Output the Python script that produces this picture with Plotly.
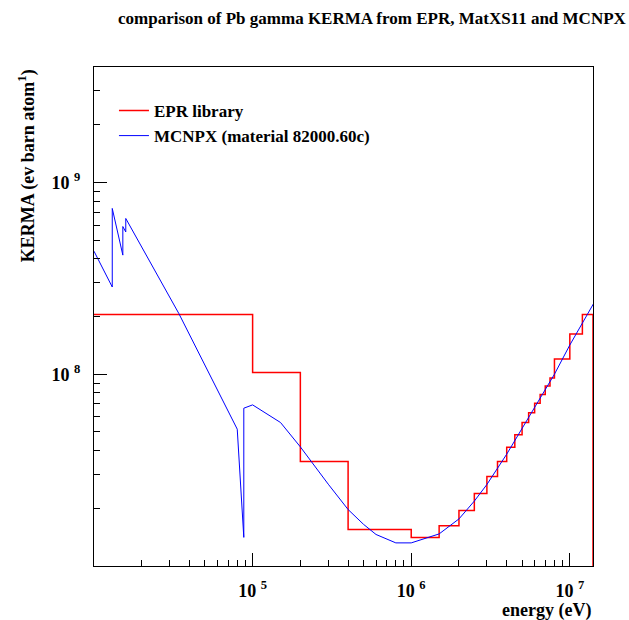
import plotly.graph_objects as go
import math

# ---- data ----
# EPR library histogram: bin edges (eV) and KERMA per bin
epr_edges = [1.0e4, 1.0e5, 2.0e5, 4.0e5, 1.0e6, 1.5e6, 2.0e6, 2.5e6, 3.0e6, 3.5e6,
             4.0e6, 4.5e6, 5.0e6, 5.5e6, 6.0e6, 6.5e6, 7.0e6, 7.5e6, 8.0e6,
             1.0e7, 1.2e7, 1.4e7]
epr_kerma = [2.05e8, 1.02e8, 3.51e7, 1.55e7, 1.41e7, 1.62e7, 1.95e7, 2.39e7, 2.93e7,
             3.51e7, 4.16e7, 4.84e7, 5.60e7, 6.30e7, 7.06e7, 7.84e7, 8.69e7, 9.57e7,
             1.20e8, 1.62e8, 2.05e8]
epr_zero = 1.0  # histogram drops to zero after the last bin (below axis range)

# MCNPX material 82000.60c curve
mcnpx_energy = [1.0e4, 1.3035e4, 1.3035e4, 1.52e4, 1.52e4, 1.586e4, 1.586e4, 3.43e4,
                8.0e4, 8.8e4, 8.8e4, 1.0e5, 1.5e5, 2.0e5, 3.0e5, 4.0e5, 5.0e5,
                6.0e5, 8.0e5, 1.0e6, 1.5e6, 2.0e6, 2.5e6, 3.0e6, 4.0e6, 5.0e6,
                6.0e6, 8.0e6, 1.0e7, 1.5e7]
mcnpx_kerma = [4.38e8, 2.85e8, 7.32e8, 4.18e8, 5.89e8, 5.52e8, 6.49e8, 2.07e8,
               5.17e7, 1.41e7, 6.65e7, 6.92e7, 5.60e7, 4.18e7, 2.67e7, 1.97e7, 1.65e7,
               1.46e7, 1.32e7, 1.32e7, 1.47e7, 1.76e7, 2.18e7, 2.66e7, 3.83e7, 5.21e7,
               6.67e7, 1.00e8, 1.42e8, 2.55e8]

x_major = [1e5, 1e6, 1e7]
x_major_text = ["10 <sup>5</sup>", "10 <sup>6</sup>", "10 <sup>7</sup>"]
y_major = [1e8, 1e9]
y_major_text = ["10 <sup>8</sup>", "10 <sup>9</sup>"]
x_range = [1.0e4, 1.4e7]
y_range = [1.0e7, 4.0e9]

title_text = "comparison of Pb gamma KERMA from EPR, MatXS11 and MCNPX"
x_title = "energy (eV)"
y_title = "KERMA (ev barn atom<sup>1</sup>)"

# ---- build step path for histogram ----
hx, hy = [], []
for i, v in enumerate(epr_kerma):
    hx += [epr_edges[i], epr_edges[i + 1]]
    hy += [v, v]
hx.append(epr_edges[-1])
hy.append(epr_zero)


def minors(lo, hi):
    out = []
    for d in range(int(math.floor(math.log10(lo))), int(math.ceil(math.log10(hi))) + 1):
        for m in range(2, 10):
            v = m * 10 ** d
            if lo < v < hi:
                out.append(v)
    return out


FONT = "Liberation Serif"

fig = go.Figure()
fig.add_trace(go.Scatter(x=hx, y=hy, mode="lines", name="EPR library",
                         line=dict(color="#ff0000", width=1.5),
                         legendgroup="a"))
fig.add_trace(go.Scatter(x=mcnpx_energy, y=mcnpx_kerma, mode="lines",
                         name="MCNPX (material 82000.60c)",
                         line=dict(color="#0000ff", width=1),
                         legendgroup="b"))

axis_common = dict(
    type="log", showgrid=False, zeroline=False,
    showline=True, linecolor="black", linewidth=1, mirror=True,
    ticks="inside", ticklen=13, tickwidth=1, tickcolor="black",
    tickmode="array",
    tickfont=dict(family=FONT, size=18, color="black", weight="bold"),
)

fig.update_xaxes(
    range=[math.log10(x_range[0]), math.log10(x_range[1])],
    tickvals=x_major, ticktext=x_major_text, ticklabelstandoff=8,
    minor=dict(tickmode="array", tickvals=minors(*x_range), ticklen=6,
               tickwidth=1, tickcolor="black", ticks="inside", showgrid=False),
    **axis_common,
)
fig.update_yaxes(
    range=[math.log10(y_range[0]), math.log10(y_range[1])],
    tickvals=y_major, ticktext=y_major_text, ticklabelstandoff=9,
    minor=dict(tickmode="array", tickvals=minors(*y_range), ticklen=6,
               tickwidth=1, tickcolor="black", ticks="inside", showgrid=False),
    **axis_common,
)

fig.update_layout(
    width=629, height=620,
    margin=dict(l=94, r=36, t=67, b=54),
    paper_bgcolor="white", plot_bgcolor="white",
    title=dict(text=title_text, xref="container", x=0.995, xanchor="right",
               yref="container", y=1 - 18 / 620, yanchor="middle",
               font=dict(family=FONT, size=17, color="black", weight="bold")),
    legend=dict(x=0.04, y=0.948, xanchor="left", yanchor="top",
                bgcolor="rgba(0,0,0,0)", borderwidth=0,
                font=dict(family=FONT, size=17, color="black", weight="bold"),
                traceorder="grouped", tracegroupgap=0, itemwidth=30),
    annotations=[
        dict(text=x_title, xref="paper", yref="paper", x=1.0, y=-0.089,
             xanchor="right", yanchor="middle", showarrow=False,
             font=dict(family=FONT, size=18, color="black", weight="bold")),
        dict(text=y_title, xref="paper", yref="paper", x=-0.135, y=1.0,
             xanchor="center", yanchor="top", textangle=-90, showarrow=False,
             font=dict(family=FONT, size=18, color="black", weight="bold")),
    ],
)

fig.write_html("out.html")
